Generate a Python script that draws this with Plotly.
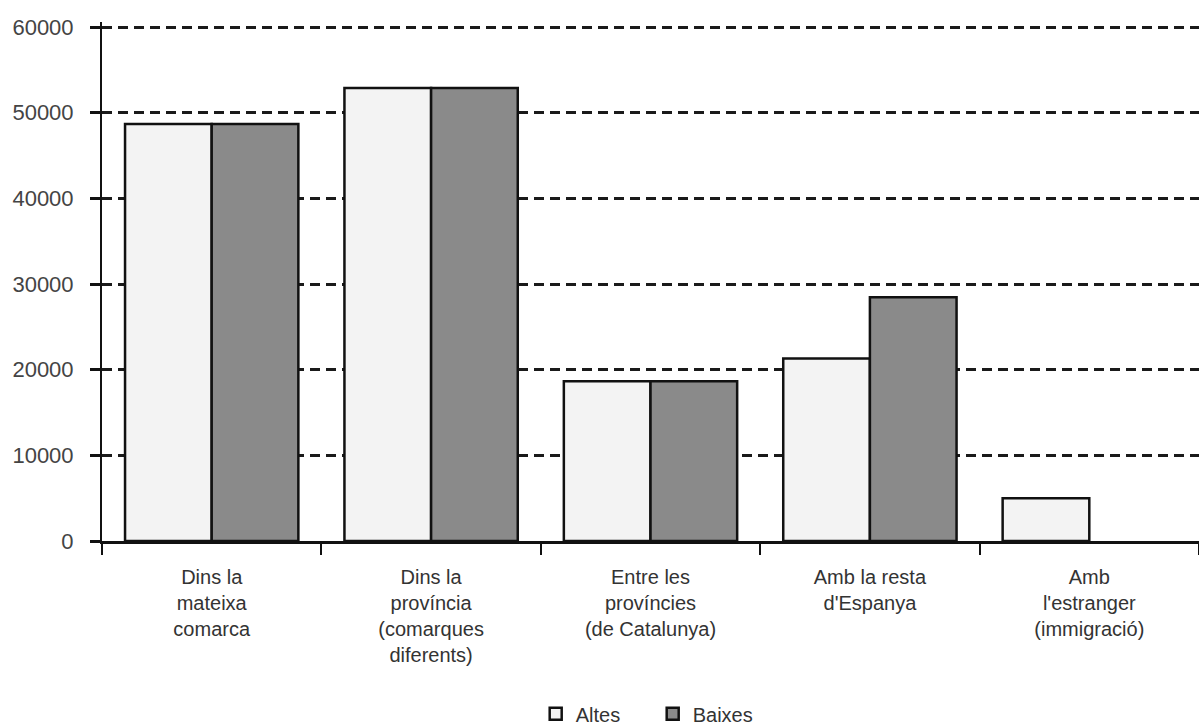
import plotly.graph_objects as go

categories = [
    "Dins la<br>mateixa<br>comarca",
    "Dins la<br>província<br>(comarques<br>diferents)",
    "Entre les<br>províncies<br>(de Catalunya)",
    "Amb la resta<br>d'Espanya",
    "Amb<br>l'estranger<br>(immigració)",
]
altes = [48700, 52900, 18650, 21300, 5000]
baixes = [48700, 52900, 18650, 28450, 0]
y_ticks = [0, 10000, 20000, 30000, 40000, 50000, 60000]

FONT = "Liberation Sans, Arial, sans-serif"

fig = go.Figure()
fig.add_trace(go.Bar(
    name="Altes", x=categories, y=altes,
    marker=dict(color="#f3f3f3", line=dict(color="#111111", width=2.5)),
))
fig.add_trace(go.Bar(
    name="Baixes", x=categories, y=[v if v > 0 else None for v in baixes],
    marker=dict(color="#8a8a8a", line=dict(color="#111111", width=2.5)),
))

fig.update_layout(
    width=1199, height=727,
    margin=dict(l=102, r=0, t=22, b=186, autoexpand=False),
    paper_bgcolor="white", plot_bgcolor="white",
    barmode="group", bargap=0.21, bargroupgap=0,
    font=dict(family=FONT, color="#333333"),
    showlegend=True,
    legend=dict(
        orientation="h", x=0.502, xanchor="center", y=-0.333, yanchor="middle",
        font=dict(size=20, color="#333333"), itemwidth=30,
        entrywidth=72, entrywidthmode="pixels",
    ),
    xaxis=dict(
        showline=True, linecolor="#111111", linewidth=2.5,
        ticks="outside", ticklen=11, tickwidth=2, tickcolor="#111111",
        tickson="boundaries", ticklabelstandoff=16,
        tickfont=dict(size=20, color="#333333"),
        showgrid=False, zeroline=False, automargin=False,
    ),
    yaxis=dict(
        range=[0, 60600], tickvals=y_ticks, ticktext=[str(v) for v in y_ticks],
        showline=True, linecolor="#111111", linewidth=2,
        ticks="outside", ticklen=10, tickwidth=2.5, tickcolor="#111111",
        ticklabelstandoff=12,
        tickfont=dict(size=22, color="#444444"),
        showgrid=True, gridcolor="#1a1a1a", gridwidth=3, griddash="10px,6px",
        zeroline=False, automargin=False,
    ),
)

fig.write_html(
    "out.html",
    config={"displayModeBar": False},
    post_script="document.body.style.margin='0';document.body.style.overflow='hidden';",
)
